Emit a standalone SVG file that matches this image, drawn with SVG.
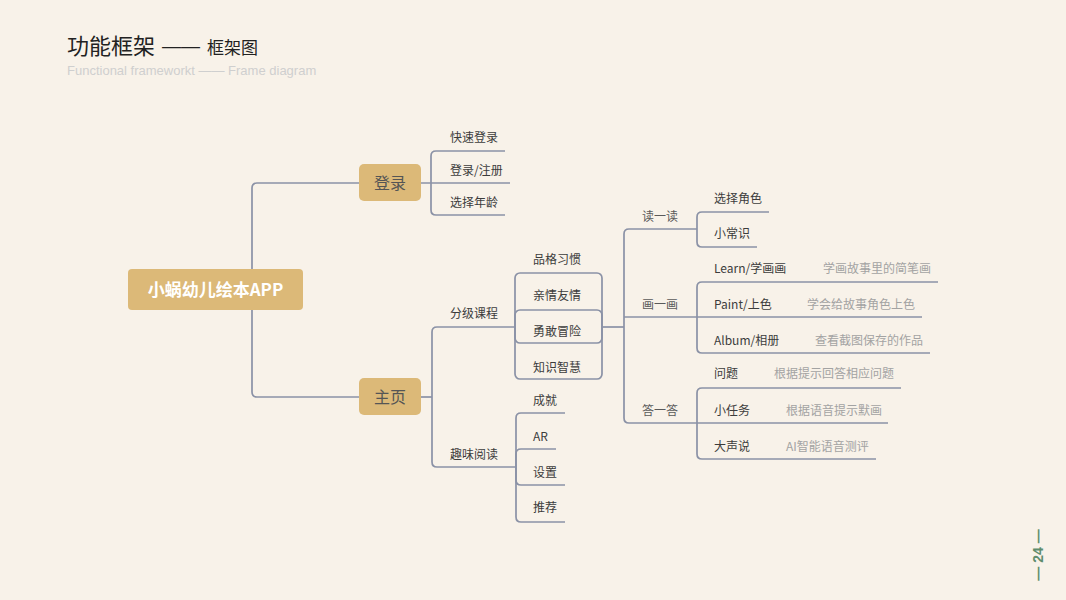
<svg xmlns="http://www.w3.org/2000/svg" width="1066" height="600" viewBox="0 0 1066 600">
<style>
.cn{font-family:"Noto Sans CJK SC","Noto Sans",sans-serif}
.lbl{font-family:"Noto Sans CJK SC","Noto Sans",sans-serif;font-size:12px;fill:#3c3c3c}
.mid{font-family:"Noto Sans CJK SC","Noto Sans",sans-serif;font-size:12px;fill:#5a5a5a}
.desc{font-family:"Noto Sans CJK SC","Noto Sans",sans-serif;font-size:12px;fill:#a3a3a3}
.node{fill:#dcb978}
.ntext{font-family:"Noto Sans CJK SC","Noto Sans",sans-serif;font-size:16px;fill:#555555;text-anchor:middle}
.ln{fill:none;stroke:#8b92a6;stroke-width:1.7}
</style>
<rect width="1066" height="600" fill="#f8f2e9"/>
<g id="title">
<text class="cn" x="67" y="54" font-size="22" fill="#222222">功能框架</text>
<text x="162" y="52" font-family="'Liberation Sans',Arial,sans-serif" font-size="19" fill="#222222">——</text>
<text class="cn" x="207" y="54" font-size="17" fill="#222222">框架图</text>
<text x="67" y="75" font-family="'Liberation Sans',Arial,sans-serif" font-size="13" fill="#cfcfcf">Functional frameworkt —— Frame diagram</text>
</g>
<g id="connectors">
<path class="ln" d="M252,269 V188 Q252,183 257,183 H359"/>
<path class="ln" d="M252,310 V392 Q252,397 257,397 H359"/>
<path class="ln" d="M420,183 H510"/>
<path class="ln" d="M505,151 H436 Q431,151 431,156 V210 Q431,215 436,215 H505"/>
<path class="ln" d="M420,397 H432"/>
<path class="ln" d="M515,327 H437 Q432,327 432,332 V462 Q432,467 437,467 H516"/>
<rect class="ln" x="515" y="273" width="87" height="106" rx="5"/>
<rect class="ln" x="515" y="310" width="87" height="33" rx="5"/>
<path class="ln" d="M602,327 H624"/>
<path class="ln" d="M697,229 H629 Q624,229 624,234 V418 Q624,423 629,423 H888"/>
<path class="ln" d="M624,317 H922"/>
<path class="ln" d="M769,212 H702 Q697,212 697,217 V242 Q697,247 702,247 H757"/>
<path class="ln" d="M938,282 H702 Q697,282 697,287 V348 Q697,353 702,353 H930"/>
<path class="ln" d="M901,388 H702 Q697,388 697,393 V454 Q697,459 702,459 H876"/>
<path class="ln" d="M565,413 H521 Q516,413 516,418 V517 Q516,522 521,522 H565"/>
<path class="ln" d="M556,449 H521 Q516,449 516,454 V480 Q516,485 521,485 H565"/>
</g>
<g id="root">
<rect class="node" x="128" y="269" width="175" height="41" rx="4"/>
<text class="cn" x="215.5" y="296" font-size="17" font-weight="bold" fill="#ffffff" text-anchor="middle">小蜗幼儿绘本APP</text>
</g>
<g id="login">
<rect class="node" x="359" y="164" width="62" height="37" rx="5"/>
<text class="ntext" x="390" y="189">登录</text>
</g>
<g id="home">
<rect class="node" x="359" y="378" width="62" height="37" rx="5"/>
<text class="ntext" x="390" y="403">主页</text>
</g>
<g id="login-items">
<text class="lbl" x="450" y="142">快速登录</text>
<text class="lbl" x="450" y="175">登录/注册</text>
<text class="lbl" x="450" y="207">选择年龄</text>
</g>
<g id="course">
<text class="lbl" x="450" y="318">分级课程</text>
<text class="lbl" x="533" y="264">品格习惯</text>
<text class="lbl" x="533" y="300">亲情友情</text>
<text class="lbl" x="533" y="336">勇敢冒险</text>
<text class="lbl" x="533" y="372">知识智慧</text>
</g>
<g id="fun">
<text class="lbl" x="450" y="459">趣味阅读</text>
<text class="lbl" x="533" y="405">成就</text>
<text class="lbl" x="533" y="441">AR</text>
<text class="lbl" x="533" y="477">设置</text>
<text class="lbl" x="533" y="512">推荐</text>
</g>
<g id="read">
<text class="mid" x="642" y="221">读一读</text>
<text class="lbl" x="714" y="203">选择角色</text>
<text class="lbl" x="714" y="238">小常识</text>
</g>
<g id="draw">
<text class="mid" x="642" y="309">画一画</text>
<text class="lbl" x="714" y="273">Learn/学画画</text>
<text class="desc" x="823" y="273">学画故事里的简笔画</text>
<text class="lbl" x="714" y="309">Paint/上色</text>
<text class="desc" x="807" y="309">学会给故事角色上色</text>
<text class="lbl" x="714" y="345">Album/相册</text>
<text class="desc" x="815" y="345">查看截图保存的作品</text>
</g>
<g id="answer">
<text class="mid" x="642" y="415">答一答</text>
<text class="lbl" x="714" y="378">问题</text>
<text class="desc" x="774" y="378">根据提示回答相应问题</text>
<text class="lbl" x="714" y="415">小任务</text>
<text class="desc" x="786" y="415">根据语音提示默画</text>
<text class="lbl" x="714" y="451">大声说</text>
<text class="desc" x="786" y="451">AI智能语音测评</text>
</g>
<g id="page">
<text transform="translate(1043,555) rotate(-90)" font-family="'Liberation Sans',Arial,sans-serif" font-size="14" font-weight="bold" fill="#5f8d6d" text-anchor="middle">— 24 —</text>
</g>
</svg>
